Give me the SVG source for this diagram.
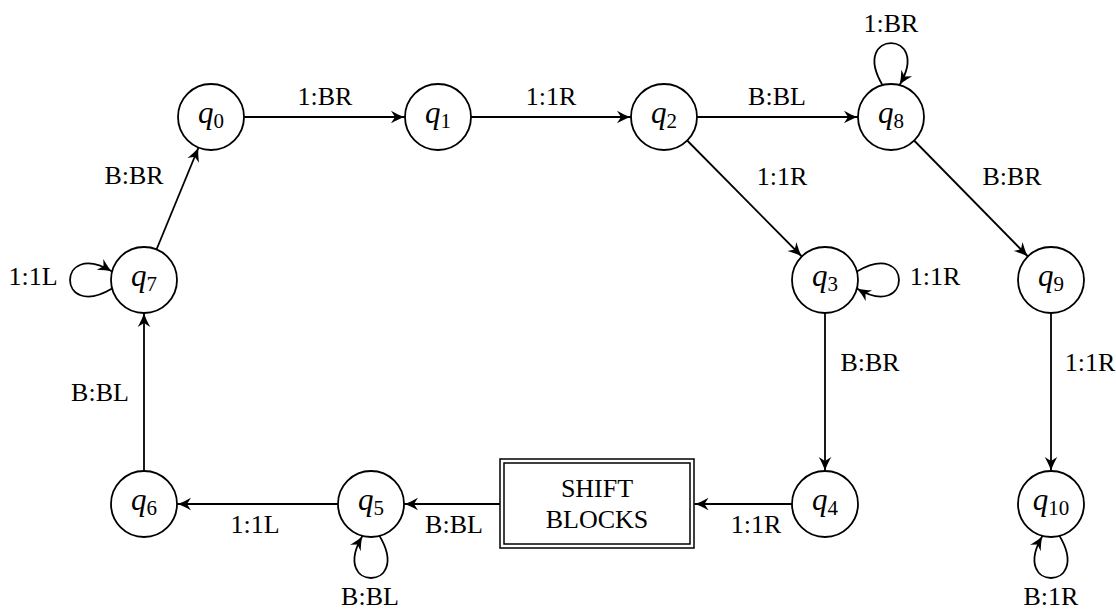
<svg xmlns="http://www.w3.org/2000/svg" width="1116" height="610" viewBox="0 0 1116 610">
<style>
.n{fill:#fff;stroke:#000;stroke-width:1.8}
.q{font-family:"Liberation Serif",serif;font-size:31px;font-style:italic;text-anchor:middle;fill:#000}
.sub{font-style:normal;font-size:21px}
.e{fill:none;stroke:#000;stroke-width:1.8;marker-end:url(#arr)}
.l{font-family:"Liberation Serif",serif;font-size:26px;fill:#000;text-anchor:middle}
.b{fill:none;stroke:#000;stroke-width:1.5}
</style>
<defs>
<marker id="arr" markerUnits="userSpaceOnUse" markerWidth="18" markerHeight="18" viewBox="-15 -9 17 18" refX="0" refY="0" orient="auto">
<path d="M0,0 C-4,-1 -10,-4 -14,-6.3 L-10,0 L-14,6.3 C-10,4 -4,1 0,0 Z" fill="#000"/>
</marker>
<path id="loop" d="M-8.5,-31.9 C-42,-88 42,-88 8.5,-31.9"/>
</defs>
<g id="connectors">
<line class="e" x1="244" y1="117" x2="405" y2="117"/>
<line class="e" x1="471" y1="117" x2="631" y2="117"/>
<line class="e" x1="697" y1="117" x2="858" y2="117"/>
<line class="e" x1="687.2" y1="140.5" x2="801.8" y2="256.5"/>
<line class="e" x1="914.1" y1="140.5" x2="1027.9" y2="256.5"/>
<line class="e" x1="825" y1="313" x2="825" y2="471"/>
<line class="e" x1="1051" y1="313" x2="1051" y2="471"/>
<line class="e" x1="792" y1="504" x2="694.5" y2="504"/>
<line class="e" x1="500" y1="504" x2="404" y2="504"/>
<line class="e" x1="338" y1="504" x2="177" y2="504"/>
<line class="e" x1="144" y1="471" x2="144" y2="313"/>
<line class="e" x1="156.5" y1="249.5" x2="198.5" y2="147.5"/>
<use href="#loop" class="e" transform="translate(891,117)"/>
<use href="#loop" class="e" transform="translate(825,280) rotate(90)"/>
<use href="#loop" class="e" transform="translate(144,280) rotate(-90)"/>
<use href="#loop" class="e" transform="translate(371,504) rotate(180)"/>
<use href="#loop" class="e" transform="translate(1051,504) rotate(180)"/>
<text class="l" x="325" y="105">1:BR</text>
<text class="l" x="551" y="105">1:1R</text>
<text class="l" x="777" y="105">B:BL</text>
<text class="l" x="782" y="185">1:1R</text>
<text class="l" x="1012" y="185">B:BR</text>
<text class="l" x="891" y="32">1:BR</text>
<text class="l" x="935" y="285">1:1R</text>
<text class="l" x="33" y="285">1:1L</text>
<text class="l" x="134" y="184">B:BR</text>
<text class="l" x="100" y="401">B:BL</text>
<text class="l" x="870" y="371">B:BR</text>
<text class="l" x="1090" y="371">1:1R</text>
<text class="l" x="756" y="533">1:1R</text>
<text class="l" x="454" y="533">B:BL</text>
<text class="l" x="255" y="533">1:1L</text>
<text class="l" x="370" y="605">B:BL</text>
<text class="l" x="1051" y="605">B:1R</text>
</g>
<g id="q0"><circle class="n" cx="211" cy="117" r="33"/><text class="q" x="211" y="123">q<tspan class="sub" dy="5">0</tspan></text></g>
<g id="q1"><circle class="n" cx="438" cy="117" r="33"/><text class="q" x="438" y="123">q<tspan class="sub" dy="5">1</tspan></text></g>
<g id="q2"><circle class="n" cx="664" cy="117" r="33"/><text class="q" x="664" y="123">q<tspan class="sub" dy="5">2</tspan></text></g>
<g id="q8"><circle class="n" cx="891" cy="117" r="33"/><text class="q" x="891" y="123">q<tspan class="sub" dy="5">8</tspan></text></g>
<g id="q7"><circle class="n" cx="144" cy="280" r="33"/><text class="q" x="144" y="286">q<tspan class="sub" dy="5">7</tspan></text></g>
<g id="q3"><circle class="n" cx="825" cy="280" r="33"/><text class="q" x="825" y="286">q<tspan class="sub" dy="5">3</tspan></text></g>
<g id="q9"><circle class="n" cx="1051" cy="280" r="33"/><text class="q" x="1051" y="286">q<tspan class="sub" dy="5">9</tspan></text></g>
<g id="q6"><circle class="n" cx="144" cy="504" r="33"/><text class="q" x="144" y="510">q<tspan class="sub" dy="5">6</tspan></text></g>
<g id="q5"><circle class="n" cx="371" cy="504" r="33"/><text class="q" x="371" y="510">q<tspan class="sub" dy="5">5</tspan></text></g>
<g id="q4"><circle class="n" cx="825" cy="504" r="33"/><text class="q" x="825" y="510">q<tspan class="sub" dy="5">4</tspan></text></g>
<g id="q10"><circle class="n" cx="1051" cy="504" r="33"/><text class="q" x="1051" y="510">q<tspan class="sub" dy="5">10</tspan></text></g>
<g id="shift">
<rect class="b" x="500" y="459" width="194" height="89"/>
<rect class="b" x="504" y="463" width="186" height="81"/>
<text class="l" x="597" y="497">SHIFT</text>
<text class="l" x="597" y="528">BLOCKS</text>
</g>
</svg>
